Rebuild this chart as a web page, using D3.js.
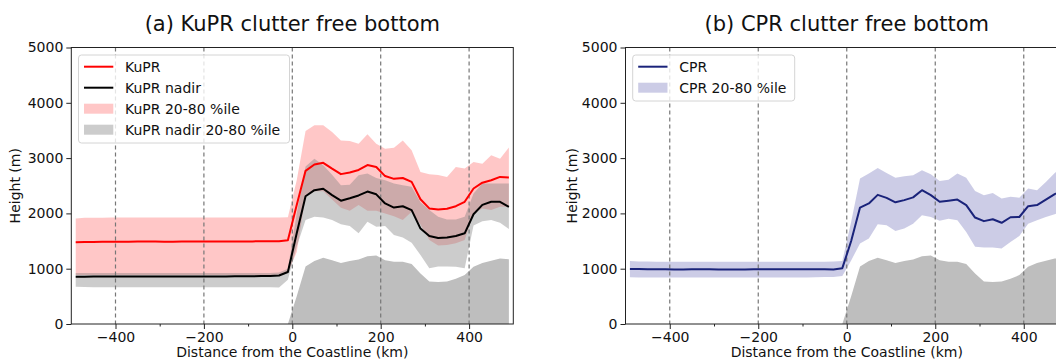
<!DOCTYPE html>
<html>
<head>
<meta charset="utf-8">
<script src="https://cdn.jsdelivr.net/npm/d3@7"></script>
<style>
  body { margin: 0; background: #fff; }
  svg { display: block; font-family: "DejaVu Sans", sans-serif; }
</style>
</head>
<body>
<script>
// distance from the coastline (km), bin centres
const distance = [-490, -470, -450, -430, -410, -390, -370, -350, -330, -310,
  -290, -270, -250, -230, -210, -190, -170, -150, -130, -110,
  -90, -70, -50, -30, -10, 10, 30, 50, 70, 90,
  110, 130, 150, 170, 190, 210, 230, 250, 270, 290,
  310, 330, 350, 370, 390, 410, 430, 450, 470, 490];

const kuprMedian = [1480, 1482, 1485, 1487, 1488, 1488, 1489, 1490, 1490, 1490,
  1489, 1489, 1490, 1490, 1490, 1490, 1490, 1491, 1492, 1493,
  1494, 1495, 1496, 1497, 1515, 2150, 2770, 2885, 2915, 2810,
  2710, 2740, 2785, 2875, 2840, 2675, 2625, 2640, 2570, 2255,
  2090, 2070, 2085, 2130, 2210, 2450, 2555, 2600, 2660, 2650];

const kuprLow = [885, 885, 885, 885, 885, 885, 885, 885, 885, 885,
  885, 885, 885, 885, 885, 885, 885, 885, 885, 885,
  885, 885, 888, 895, 930, 1300, 2300, 2400, 2400, 2250,
  2100, 2050, 2150, 2050, 2050, 2000, 1950, 1880, 2030, 1800,
  1520, 1420, 1430, 1460, 1520, 2000, 2090, 2060, 2120, 2120];

const kuprHigh = [1910, 1920, 1922, 1923, 1924, 1925, 1925, 1925, 1925, 1926,
  1926, 1926, 1926, 1926, 1926, 1926, 1926, 1926, 1927, 1927,
  1927, 1928, 1928, 1928, 1930, 2600, 3490, 3595, 3595, 3470,
  3320, 3310, 3260, 3430, 3260, 3170, 3185, 3320, 3140, 2750,
  2710, 2695, 2660, 2840, 2810, 2930, 2900, 3050, 2990, 3190];

const nadirMedian = [855, 856, 857, 857, 858, 858, 858, 858, 858, 858,
  858, 858, 858, 858, 858, 860, 860, 860, 862, 862,
  864, 866, 868, 878, 940, 1640, 2310, 2420, 2445, 2330,
  2230, 2275, 2325, 2395, 2345, 2180, 2105, 2130, 2060, 1725,
  1590, 1555, 1565, 1590, 1640, 1985, 2155, 2210, 2210, 2120];

const nadirLow = [675, 668, 665, 664, 663, 663, 663, 663, 663, 663,
  663, 663, 663, 663, 663, 663, 663, 663, 663, 663,
  663, 663, 663, 662, 800, 1400, 1880, 1940, 1925, 1880,
  1805, 1770, 1640, 1850, 1760, 1770, 1610, 1565, 1470, 1250,
  1010, 1040, 1040, 1035, 1010, 1780, 1860, 1880, 1830, 1720];

const nadirHigh = [920, 920, 920, 920, 920, 920, 920, 920, 920, 920,
  920, 920, 920, 920, 920, 920, 920, 920, 920, 920,
  920, 920, 922, 930, 1000, 2000, 2850, 2990, 2870, 2700,
  2510, 2520, 2690, 2720, 2640, 2600, 2540, 2510, 2480, 2200,
  2060, 1940, 1890, 1890, 1940, 2360, 2540, 2540, 2540, 2540];

// surface elevation (land only)
const terrain = [null, null, null, null, null, null, null, null, null, null,
  null, null, null, null, null, null, null, null, null, null,
  null, null, null, null, 0, 500, 1040, 1140, 1200, 1155,
  1105, 1140, 1165, 1225, 1240, 1155, 1125, 1125, 1085, 915,
  770, 758, 770, 818, 884, 1035, 1105, 1145, 1185, 1170];

const cprMedian = [995, 993, 990, 988, 988, 987, 987, 988, 990, 988,
  986, 985, 986, 987, 988, 989, 990, 990, 990, 990,
  990, 990, 988, 986, 1010, 1500, 2105, 2180, 2335, 2280,
  2200, 2240, 2290, 2420, 2330, 2210, 2230, 2250, 2150, 1925,
  1860, 1895, 1830, 1930, 1935, 2130, 2150, 2250, 2350, 2420];

const cprLow = [845, 842, 842, 842, 842, 842, 842, 842, 842, 842,
  842, 842, 842, 842, 842, 842, 842, 842, 842, 842,
  842, 845, 848, 852, 866, 1150, 1455, 1545, 1805, 1785,
  1680, 1725, 1815, 1965, 1935, 1865, 1905, 1875, 1665, 1395,
  1385, 1385, 1365, 1485, 1590, 1815, 1875, 1935, 1985, 2050];

const cprHigh = [1137, 1130, 1128, 1127, 1126, 1126, 1126, 1126, 1126, 1126,
  1125, 1125, 1125, 1125, 1125, 1125, 1125, 1125, 1125, 1125,
  1125, 1126, 1127, 1128, 1140, 1850, 2630, 2720, 2820, 2730,
  2645, 2670, 2690, 2780, 2710, 2585, 2610, 2720, 2645, 2405,
  2330, 2370, 2270, 2300, 2285, 2450, 2420, 2570, 2730, 2850];

const xTicks = [-400, -200, 0, 200, 400];
const xMinorTicks = [-300, -100, 100, 300];
const yTicks = [0, 1000, 2000, 3000, 4000, 5000];

const W = 1056, H = 361;
const svg = d3.select("body").append("svg")
  .attr("width", W)
  .attr("height", H);

svg.append("rect").attr("width", W).attr("height", H).attr("fill", "#fff");

function drawPanel(opts) {
  const x = d3.scaleLinear().domain([-500, 500]).range([opts.left, opts.right]);
  const y = d3.scaleLinear().domain([0, 5000]).range([324, 47.5]);

  const g = svg.append("g");

  const band = (lo, hi) => d3.area()
    .x((d, i) => x(distance[i]))
    .y0((d, i) => y(lo[i]))
    .y1((d, i) => y(hi[i]));

  // percentile bands
  opts.bands.forEach(b => {
    g.append("path")
      .datum(distance)
      .attr("d", band(b.lo, b.hi))
      .attr("fill", b.color)
      .attr("fill-opacity", b.opacity);
  });

  // terrain
  g.append("path")
    .datum(terrain)
    .attr("d", d3.area()
      .defined(d => d !== null)
      .x((d, i) => x(distance[i]))
      .y0(y(0))
      .y1(d => y(d)))
    .attr("fill", "#bebebe");

  // dashed verticals
  g.selectAll(".vgrid")
    .data(xTicks)
    .join("line")
    .attr("x1", d => x(d)).attr("x2", d => x(d))
    .attr("y1", y(5000)).attr("y2", y(0))
    .attr("stroke", "#777")
    .attr("stroke-width", 1.2)
    .attr("stroke-dasharray", "4,3");

  opts.lines.forEach(l => {
    g.append("path")
      .datum(l.values)
      .attr("d", d3.line().x((d, i) => x(distance[i])).y(d => y(d)))
      .attr("fill", "none")
      .attr("stroke", l.color)
      .attr("stroke-width", 2)
      .attr("stroke-linejoin", "round");
  });

  // axes
  const xAxis = g.append("g")
    .attr("transform", "translate(0," + y(0) + ")")
    .call(d3.axisBottom(x).tickValues(xTicks).tickFormat(d3.format("d"))
      .tickSize(5).tickPadding(3));
  xAxis.append("g")
    .call(d3.axisBottom(x).tickValues(xMinorTicks).tickFormat("").tickSize(2.5));

  const yAxis = g.append("g")
    .attr("transform", "translate(" + opts.left + ",0)")
    .call(d3.axisLeft(y).tickValues(yTicks).tickFormat(d3.format("d"))
      .tickSize(5).tickPadding(3));

  [xAxis, yAxis].forEach(a => {
    a.selectAll(".domain").remove();
    a.selectAll("line").attr("stroke", "#222");
    a.selectAll("text").attr("font-size", 14).attr("fill", "#111")
      .attr("font-family", "DejaVu Sans");
  });

  g.append("rect")
    .attr("x", opts.left).attr("y", y(5000))
    .attr("width", opts.right - opts.left).attr("height", y(0) - y(5000))
    .attr("fill", "none")
    .attr("stroke", "#222")
    .attr("stroke-width", 1);

  const cx = (opts.left + opts.right) / 2;
  svg.append("text")
    .attr("x", cx).attr("y", 31)
    .attr("text-anchor", "middle")
    .attr("font-size", 21)
    .attr("fill", "#111")
    .text(opts.title);

  svg.append("text")
    .attr("x", cx).attr("y", 357)
    .attr("text-anchor", "middle")
    .attr("font-size", 14)
    .attr("fill", "#111")
    .text("Distance from the Coastline (km)");

  svg.append("text")
    .attr("transform", "translate(" + opts.ylabelX + "," + (y(2500)) + ") rotate(-90)")
    .attr("text-anchor", "middle")
    .attr("dy", "0.35em")
    .attr("font-size", 14)
    .attr("fill", "#111")
    .text("Height (m)");

  // legend
  const lg = svg.append("g").attr("transform", "translate(" + opts.left + ",0)");
  const rowH = 21;
  lg.append("rect")
    .attr("x", 7.2).attr("y", 55)
    .attr("width", opts.legendW).attr("height", opts.legend.length * rowH + 4)
    .attr("rx", 3)
    .attr("fill", "#fff").attr("fill-opacity", 0.8)
    .attr("stroke", "#d4d4d4").attr("stroke-width", 1);

  opts.legend.forEach((e, i) => {
    const cy = 66.7 + i * rowH;
    if (e.type === "line") {
      lg.append("line")
        .attr("x1", 12.7).attr("x2", 42)
        .attr("y1", cy).attr("y2", cy)
        .attr("stroke", e.color).attr("stroke-width", 2);
    } else {
      lg.append("rect")
        .attr("x", 12.7).attr("y", cy - 5)
        .attr("width", 29.3).attr("height", 10)
        .attr("fill", e.color).attr("fill-opacity", e.opacity);
    }
    lg.append("text")
      .attr("x", 53.7).attr("y", cy)
      .attr("dy", "0.35em")
      .attr("font-size", 14)
      .attr("fill", "#111")
      .text(e.label);
  });
}

drawPanel({
  left: 71.3, right: 513.3, ylabelX: 15.5,
  title: "(a) KuPR clutter free bottom",
  bands: [
    { lo: kuprLow, hi: kuprHigh, color: "red", opacity: 0.22 },
    { lo: nadirLow, hi: nadirHigh, color: "gray", opacity: 0.4 }
  ],
  lines: [
    { values: kuprMedian, color: "#ff0000" },
    { values: nadirMedian, color: "#000" }
  ],
  legendW: 211,
  legend: [
    { type: "line", color: "#ff0000", label: "KuPR" },
    { type: "line", color: "#000", label: "KuPR nadir" },
    { type: "patch", color: "red", opacity: 0.22, label: "KuPR 20-80 %ile" },
    { type: "patch", color: "gray", opacity: 0.4, label: "KuPR nadir 20-80 %ile" }
  ]
});

drawPanel({
  left: 625.5, right: 1068, ylabelX: 572,
  title: "(b) CPR clutter free bottom",
  bands: [
    { lo: cprLow, hi: cprHigh, color: "#000080", opacity: 0.2 }
  ],
  lines: [
    { values: cprMedian, color: "#1a237a" }
  ],
  legendW: 162,
  legend: [
    { type: "line", color: "#1a237a", label: "CPR" },
    { type: "patch", color: "#000080", opacity: 0.2, label: "CPR 20-80 %ile" }
  ]
});
</script>
</body>
</html>
